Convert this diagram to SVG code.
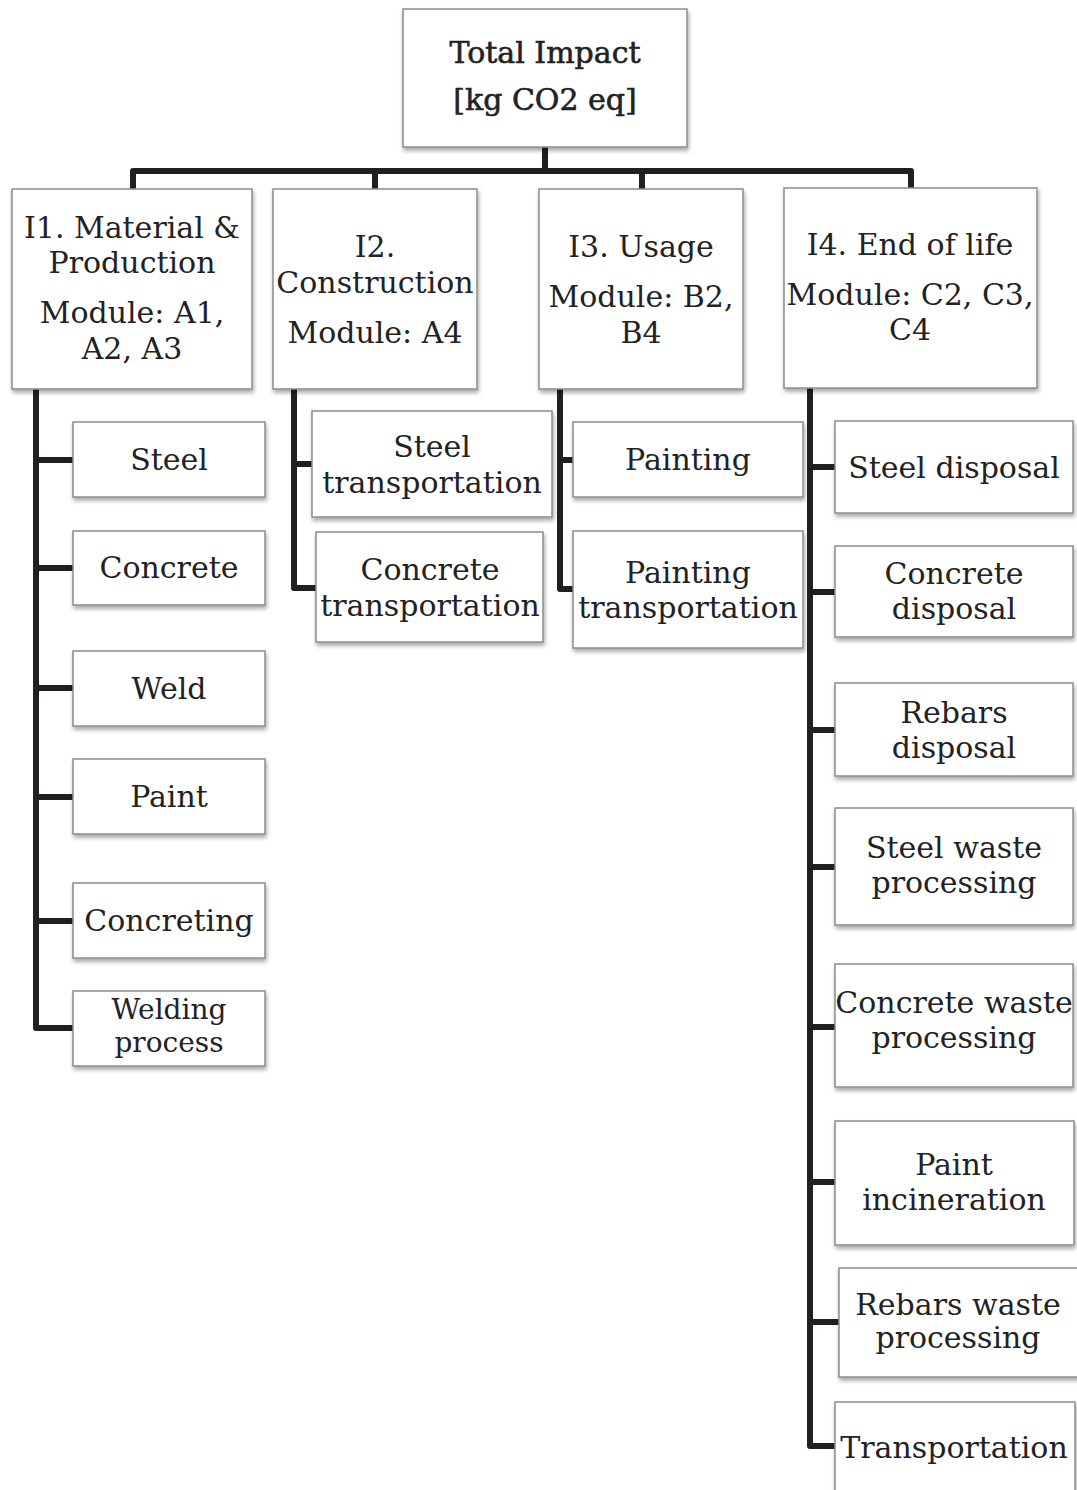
<svg xmlns="http://www.w3.org/2000/svg" width="1077" height="1490" viewBox="0 0 1077 1490">
<defs>
<filter id="sh" x="-10%" y="-10%" width="130%" height="130%">
<feDropShadow dx="1" dy="3" stdDeviation="2" flood-color="#000" flood-opacity="0.35"/>
</filter>
<style>
.box{fill:#fff;stroke:#8c8c8c;stroke-width:1.5;filter:url(#sh)}
text{font-family:"DejaVu Serif","Liberation Serif",serif;font-size:30px;fill:#222;text-anchor:middle}
.top{font-size:30px;stroke:#222;stroke-width:0.6}
.sm{font-size:28px}
.con{fill:none;stroke:#231f20;stroke-width:6;stroke-linejoin:round}
</style>
</defs>
<rect width="1077" height="1490" fill="#fff"/>
<g id="connectors" class="con">
<path class="con" d="M545,147 V171"/>
<path class="con" d="M133,189 V171 H911 V188"/>
<path class="con" d="M375,171 V189"/>
<path class="con" d="M642,171 V189"/>
<path class="con" d="M36,389 V1028 H73 M36,460 H73 M36,568 H73 M36,688 H73 M36,797 H73 M36,921 H73"/>
<path class="con" d="M294,389 V588 H316 M294,464 H312"/>
<path class="con" d="M560,389 V589 H573 M560,460 H573"/>
<path class="con" d="M810,388 V1446 H835 M810,467 H835 M810,592 H835 M810,730 H835 M810,867 H835 M810,1027 H835 M810,1182 H835 M810,1322 H839"/>
</g>
<g id="total"><rect class="box" x="403" y="9" width="284" height="138"/><text class="top" x="545" y="63">Total Impact</text><text class="top" x="545" y="110">[kg CO2 eq]</text></g>
<g id="i1"><rect class="box" x="12" y="189" width="240" height="200"/><text x="132" y="238">I1. Material &amp;</text><text x="132" y="273">Production</text><text x="132" y="323">Module: A1,</text><text x="132" y="359">A2, A3</text></g>
<g id="i2"><rect class="box" x="273" y="189" width="204" height="200"/><text x="375" y="257">I2.</text><text x="375" y="293">Construction</text><text x="375" y="343">Module: A4</text></g>
<g id="i3"><rect class="box" x="539" y="189" width="204" height="200"/><text x="641" y="257">I3. Usage</text><text x="641" y="307">Module: B2,</text><text x="641" y="343">B4</text></g>
<g id="i4"><rect class="box" x="784" y="188" width="253" height="200"/><text x="910" y="255">I4. End of life</text><text x="910" y="305">Module: C2, C3,</text><text x="910" y="340">C4</text></g>
<g id="steel"><rect class="box" x="73" y="422" width="192" height="75"/><text x="169" y="470">Steel</text></g>
<g id="concrete"><rect class="box" x="73" y="531" width="192" height="74"/><text x="169" y="578">Concrete</text></g>
<g id="weld"><rect class="box" x="73" y="651" width="192" height="75"/><text x="169" y="699">Weld</text></g>
<g id="paint"><rect class="box" x="73" y="759" width="192" height="75"/><text x="169" y="807">Paint</text></g>
<g id="concreting"><rect class="box" x="73" y="883" width="192" height="75"/><text x="169" y="931">Concreting</text></g>
<g id="welding"><rect class="box" x="73" y="991" width="192" height="75"/><text class="sm" x="169" y="1019">Welding</text><text class="sm" x="169" y="1052">process</text></g>
<g id="steel-transport"><rect class="box" x="312" y="411" width="240" height="106"/><text x="432" y="457">Steel</text><text x="432" y="493">transportation</text></g>
<g id="concrete-transport"><rect class="box" x="316" y="532" width="227" height="110"/><text x="430" y="580">Concrete</text><text x="430" y="616">transportation</text></g>
<g id="painting"><rect class="box" x="573" y="422" width="230" height="75"/><text x="688" y="470">Painting</text></g>
<g id="painting-transport"><rect class="box" x="573" y="531" width="230" height="117"/><text x="688" y="583">Painting</text><text x="688" y="618">transportation</text></g>
<g id="steel-disposal"><rect class="box" x="835" y="421" width="238" height="92"/><text x="954" y="478">Steel disposal</text></g>
<g id="concrete-disposal"><rect class="box" x="835" y="546" width="238" height="91"/><text x="954" y="584">Concrete</text><text x="954" y="619">disposal</text></g>
<g id="rebars-disposal"><rect class="box" x="835" y="683" width="238" height="93"/><text x="954" y="723">Rebars</text><text x="954" y="758">disposal</text></g>
<g id="steel-waste"><rect class="box" x="835" y="808" width="238" height="117"/><text x="954" y="858">Steel waste</text><text x="954" y="893">processing</text></g>
<g id="concrete-waste"><rect class="box" x="835" y="964" width="238" height="123"/><text x="954" y="1013">Concrete waste</text><text x="954" y="1048">processing</text></g>
<g id="paint-incineration"><rect class="box" x="835" y="1121" width="239" height="124"/><text x="954" y="1175">Paint</text><text x="954" y="1210">incineration</text></g>
<g id="rebars-waste"><rect class="box" x="839" y="1268" width="240" height="109"/><text x="958" y="1315">Rebars waste</text><text x="958" y="1348">processing</text></g>
<g id="transportation"><rect class="box" x="835" y="1402" width="240" height="100"/><text x="954" y="1458">Transportation</text></g>
</svg>
